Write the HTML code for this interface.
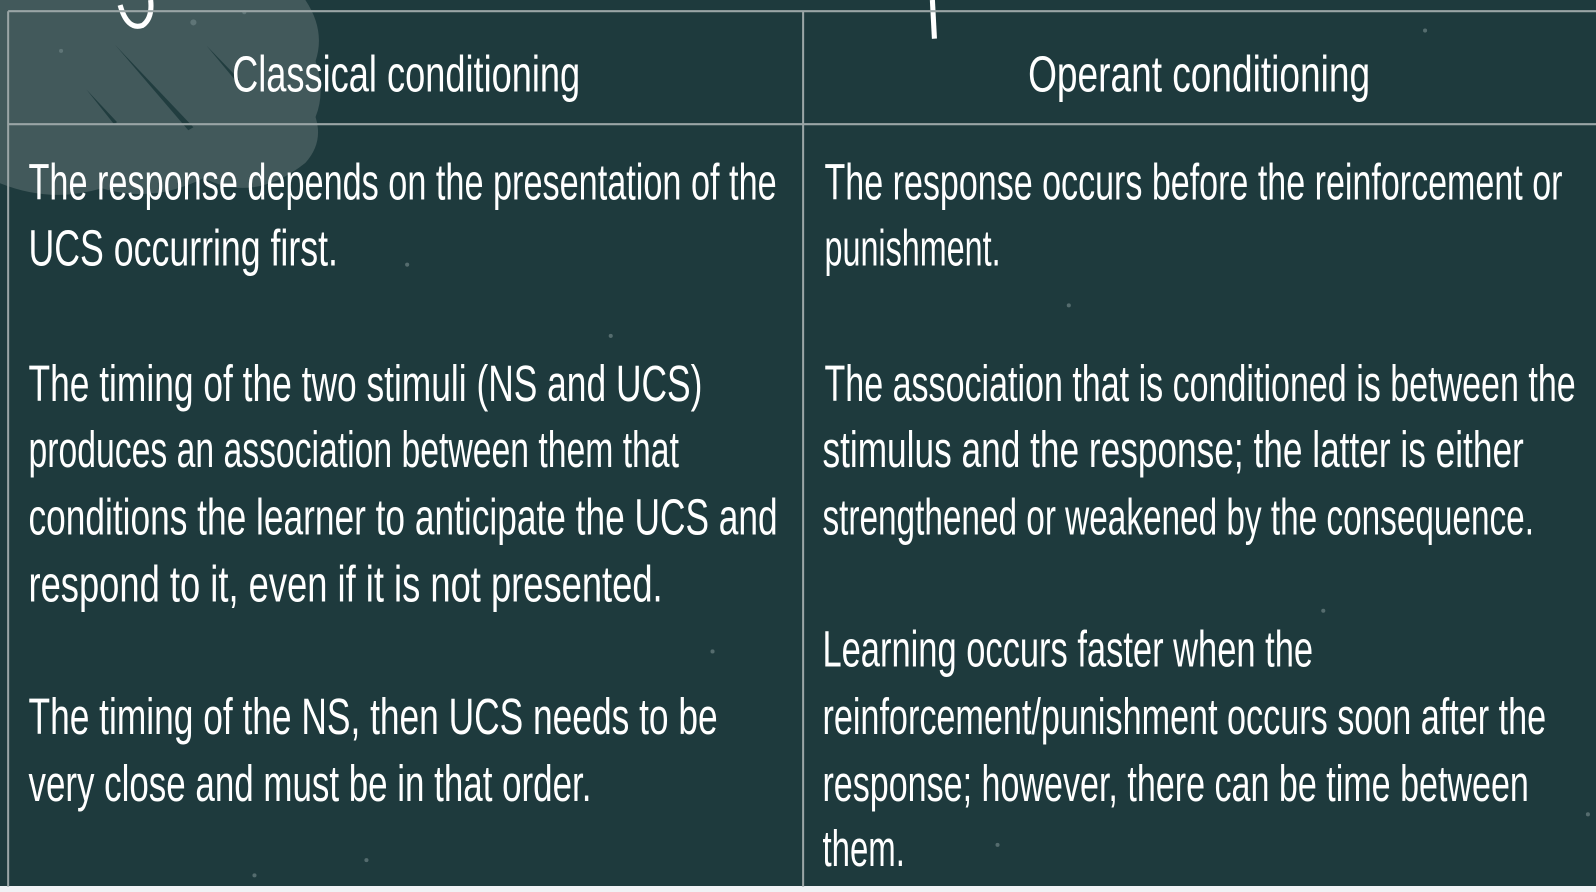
<!DOCTYPE html>
<html><head><meta charset="utf-8"><style>
html,body{margin:0;padding:0;background:#1e3a3d;width:1596px;height:892px;overflow:hidden}
svg{display:block}
text{font-family:"Liberation Sans",sans-serif;fill:#fff}
</style></head><body>
<svg width="1596" height="892" viewBox="0 0 1596 892" xmlns="http://www.w3.org/2000/svg">
<rect width="1596" height="892" fill="#1e3a3d"/>
<rect x="0" y="886" width="1596" height="6" fill="#f0f2f5"/>
<g transform="scale(1.0179)">
<path d="M0 0 H300 Q320 30 310 60 Q320 90 310 115 Q318 140 300 160 Q250 200 200 175 Q150 200 100 185 Q50 200 0 180 Z" fill="#42595b"/>
<g fill="#1e3a3d" opacity="0.9">
<path d="M113 44 L190 125 L185 128 Z"/><path d="M85 88 L115 120 L112 122 Z"/><path d="M203 45 L235 78 L232 80 Z"/>
</g>
<g fill="#6c8183" opacity="0.7">
<circle cx="60" cy="50" r="2"/><circle cx="190" cy="22" r="3"/><circle cx="240" cy="12" r="2"/><circle cx="400" cy="260" r="2"/><circle cx="600" cy="330" r="2"/><circle cx="1050" cy="300" r="2"/><circle cx="1300" cy="600" r="2"/><circle cx="700" cy="640" r="2"/><circle cx="1560" cy="800" r="2"/><circle cx="250" cy="860" r="2"/><circle cx="1400" cy="30" r="2"/><circle cx="360" cy="845" r="2"/><circle cx="980" cy="830" r="2"/>
</g>
<path d="M118 5 Q125 30 140 25 Q150 18 148 0" stroke="#fff" stroke-width="5" fill="none"/>
<line x1="916" y1="0" x2="918" y2="38" stroke="#fff" stroke-width="5"/>
<g stroke="#9aa5a6" stroke-width="2" fill="none">
<line x1="8" y1="11" x2="1596" y2="11"/>
<line x1="8" y1="122" x2="1596" y2="122"/>
<line x1="8" y1="11" x2="8" y2="871"/>
<line x1="789" y1="11" x2="789" y2="871"/>
</g>
<g font-size="50">
<text x="228" y="90" textLength="342" lengthAdjust="spacingAndGlyphs">Classical conditioning</text>
<text x="1010" y="90" textLength="336" lengthAdjust="spacingAndGlyphs">Operant conditioning</text>
</g>
<g font-size="50">
<text x="28" y="196" textLength="735" lengthAdjust="spacingAndGlyphs">The response depends on the presentation of the</text>
<text x="28" y="261" textLength="304" lengthAdjust="spacingAndGlyphs">UCS occurring first.</text>
<text x="28" y="394" textLength="662" lengthAdjust="spacingAndGlyphs">The timing of the two stimuli (NS and UCS)</text>
<text x="28" y="459" textLength="639" lengthAdjust="spacingAndGlyphs">produces an association between them that</text>
<text x="28" y="525" textLength="736" lengthAdjust="spacingAndGlyphs">conditions the learner to anticipate the UCS and</text>
<text x="28" y="591" textLength="623" lengthAdjust="spacingAndGlyphs">respond to it, even if it is not presented.</text>
<text x="28" y="721" textLength="677" lengthAdjust="spacingAndGlyphs">The timing of the NS, then UCS needs to be</text>
<text x="28" y="787" textLength="553" lengthAdjust="spacingAndGlyphs">very close and must be in that order.</text>
<text x="810" y="196" textLength="725" lengthAdjust="spacingAndGlyphs">The response occurs before the reinforcement or</text>
<text x="810" y="261" textLength="173" lengthAdjust="spacingAndGlyphs">punishment.</text>
<text x="810" y="394" textLength="738" lengthAdjust="spacingAndGlyphs">The association that is conditioned is between the</text>
<text x="808" y="459" textLength="689" lengthAdjust="spacingAndGlyphs">stimulus and the response; the latter is either</text>
<text x="808" y="525" textLength="699" lengthAdjust="spacingAndGlyphs">strengthened or weakened by the consequence.</text>
<text x="808" y="655" textLength="482" lengthAdjust="spacingAndGlyphs">Learning occurs faster when the</text>
<text x="808" y="721" textLength="711" lengthAdjust="spacingAndGlyphs">reinforcement/punishment occurs soon after the</text>
<text x="808" y="787" textLength="694" lengthAdjust="spacingAndGlyphs">response; however, there can be time between</text>
<text x="808" y="851" textLength="81" lengthAdjust="spacingAndGlyphs">them.</text>
</g>
</g>
</svg>
</body></html>
